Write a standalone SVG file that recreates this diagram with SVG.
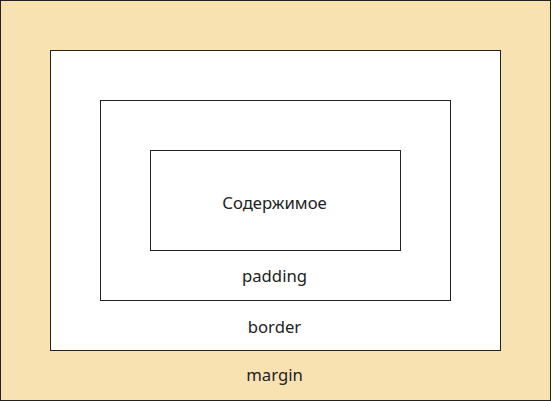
<svg xmlns="http://www.w3.org/2000/svg" width="551" height="401" viewBox="0 0 551 401">
<style>
rect{stroke:#222;stroke-width:1}
text{font-family:"Noto Sans","Open Sans",sans-serif;font-size:16.7px;fill:#222;text-anchor:middle}
</style>
<g id="margin"><rect x="0.5" y="0.5" width="550" height="400" fill="#f8e2b2"/><text x="274.5" y="381">margin</text></g>
<g id="border"><rect x="50.5" y="50.5" width="450" height="300" fill="#fff"/><text x="274.5" y="333">border</text></g>
<g id="padding"><rect x="100.5" y="100.5" width="350" height="200" fill="#fff"/><text x="274.5" y="282">padding</text></g>
<g id="content"><rect x="150.5" y="150.5" width="250" height="100" fill="#fff"/><text x="274.5" y="209">Содержимое</text></g>
<g id="connectors"/>
</svg>
